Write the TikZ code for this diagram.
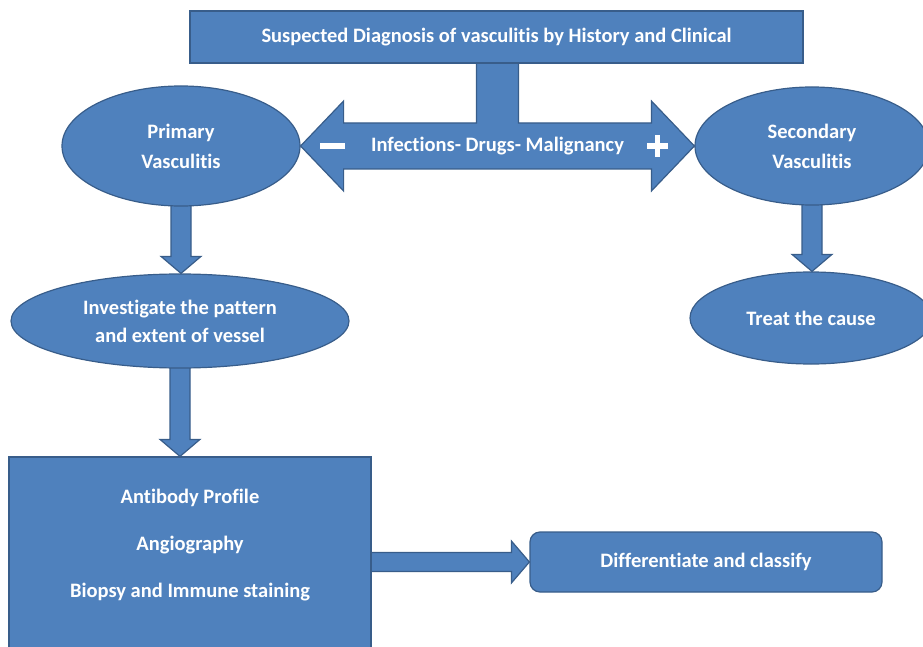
\documentclass[tikz,border=0pt]{standalone}
\usepackage{fontspec}
\setmainfont[Ligatures=NoCommon]{Carlito}
\usepackage{xcolor}
\usepackage{tikz}
\usetikzlibrary{calc,positioning,backgrounds,shapes.geometric}
\definecolor{boxblue}{RGB}{79,129,189}
\definecolor{edgeblue}{RGB}{56,93,138}

\begin{document}
\begin{tikzpicture}[
  x=1pt, y=-1pt,
  every node/.style={draw=edgeblue, fill=boxblue, line width=1.2pt, text=white, align=center, inner sep=0pt, font=\fontsize{20.5}{30}\selectfont\bfseries},
  oval/.style={ellipse},
  box/.style={rectangle},
  w/.style={draw=none, fill=none},
  blk/.style={draw=edgeblue, fill=boxblue, line width=1.2pt, line join=miter},
  sign/.style={draw=white, line width=5.5pt}
]
  \useasboundingbox (0,0) rectangle (923,647);
  \clip (0,0) rectangle (923,647);

  \node[box, minimum width=613pt, minimum height=52pt] (suspect) at (496.5,37) {Suspected Diagnosis of vasculitis by History and Clinical};
  \node[oval, minimum width=238pt, minimum height=120pt] (prim) at (181,146) {Primary\\Vasculitis};
  \node[oval, minimum width=234pt, minimum height=118pt] (sec) at (812,146) {Secondary\\Vasculitis};
  \node[oval, minimum width=338pt, minimum height=94pt] (invest) at (180,321) {Investigate the pattern\\[-2pt]and extent of vessel};
  \node[oval, minimum width=242pt, minimum height=92pt] (treat) at (811,318) {Treat the cause};
  \node[box, minimum width=362pt, minimum height=200pt] (tests) at (190,557) {};
  \node[w] (testlist) at (190,545) {Antibody Profile\\[17pt]Angiography\\[17pt]Biopsy and Immune staining};
  \node[box, rounded corners=10pt, minimum width=352pt, minimum height=60pt] (diff) at (706,562) {Differentiate and classify};
  \node[w] (factors) at ($(prim.east)!0.5!(sec.west)$) {Infections- Drugs- Malignancy};

  % minus and plus on the shaft
  \draw[sign] (320,146) -- (345,146);
  \draw[sign] (647,146) -- (668,146) (657.5,135) -- (657.5,157);

  \begin{scope}[on background layer]
    % T-shaped double arrow
    \draw[blk] let \p1=(prim.east), \p2=(sec.west), \p3=($(prim.east)!0.5!(sec.west)$), \p4=(suspect.south) in
      (\x1,\y3) -- (\x1+43pt,\y3+45pt) -- (\x1+43pt,\y3+23pt) -- (\x3-21pt,\y3+23pt) -- (\x3-21pt,\y4+2pt)
      -- (\x3+21pt,\y4+2pt) -- (\x3+21pt,\y3+23pt) -- (\x2-43pt,\y3+23pt) -- (\x2-43pt,\y3+45pt) -- (\x2,\y3)
      -- (\x2-43pt,\y3-45pt) -- (\x2-43pt,\y3-23pt) -- (\x1+43pt,\y3-23pt) -- (\x1+43pt,\y3-45pt) -- cycle;
    % down arrows
    \draw[blk] let \p1=(prim.south), \p2=(invest.north) in
      (\x1-10pt,\y1+4pt) -- (\x1-10pt,\y2+17pt) -- (\x1-20pt,\y2+17pt) -- (\x1,\y2) -- (\x1+20pt,\y2+17pt) -- (\x1+10pt,\y2+17pt) -- (\x1+10pt,\y1+4pt) -- cycle;
    \draw[blk] let \p1=(invest.south), \p2=(tests.north) in
      (\x1-10pt,\y1+4pt) -- (\x1-10pt,\y2+17pt) -- (\x1-20pt,\y2+17pt) -- (\x1,\y2) -- (\x1+20pt,\y2+17pt) -- (\x1+10pt,\y2+17pt) -- (\x1+10pt,\y1+4pt) -- cycle;
    \draw[blk] let \p1=(sec.south), \p2=(treat.north) in
      (\x1-10pt,\y1+4pt) -- (\x1-10pt,\y2+17pt) -- (\x1-20pt,\y2+17pt) -- (\x1,\y2) -- (\x1+20pt,\y2+17pt) -- (\x1+10pt,\y2+17pt) -- (\x1+10pt,\y1+4pt) -- cycle;
    % right arrow
    \draw[blk] let \p1=(tests.east), \p2=(diff.west) in
      (\x1-4pt,\y2+9.5pt) -- (\x2-18pt,\y2+9.5pt) -- (\x2-18pt,\y2+21pt) -- (\x2,\y2) -- (\x2-18pt,\y2-21pt) -- (\x2-18pt,\y2-9.5pt) -- (\x1-4pt,\y2-9.5pt) -- cycle;
  \end{scope}
\end{tikzpicture}
\end{document}
